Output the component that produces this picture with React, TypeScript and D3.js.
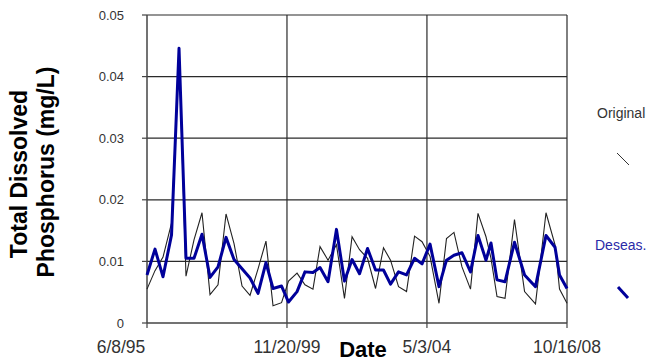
import React from "react";
import * as d3 from "d3";

// Sampling dates (shared by both series)
const dates = [
  "1995-06-08", "1995-09-09", "1995-12-11", "1996-03-19", "1996-06-14", "1996-09-03",
  "1996-12-05", "1997-03-08", "1997-06-09", "1997-09-10", "1997-12-12", "1998-03-15",
  "1998-06-16", "1998-09-17", "1998-12-19", "1999-03-21", "1999-06-11", "1999-09-18",
  "1999-12-08", "2000-03-16", "2000-06-16", "2000-09-17", "2000-12-08", "2001-03-11",
  "2001-06-17", "2001-09-18", "2001-12-15", "2002-03-12", "2002-06-13", "2002-09-14",
  "2002-12-15", "2003-03-07", "2003-06-08", "2003-09-09", "2003-12-11", "2004-03-07",
  "2004-06-08", "2004-09-20", "2004-12-16", "2005-03-13", "2005-06-14", "2005-09-21",
  "2005-12-17", "2006-03-20", "2006-05-17", "2006-07-26", "2006-10-27", "2007-02-14",
  "2007-06-11", "2007-10-16", "2008-02-15", "2008-05-30", "2008-07-21", "2008-10-16",
];

// Original series (mg/L)
const original = [
  0.0055, 0.0085, 0.0107, 0.0162, 0.044, 0.0076,
  0.0135, 0.0179, 0.0046, 0.0062, 0.0177, 0.0129,
  0.006, 0.0045, 0.0088, 0.0133, 0.0028, 0.0033,
  0.0068, 0.0081, 0.0062, 0.0055, 0.0124, 0.0102,
  0.0127, 0.004, 0.014, 0.0119, 0.0105, 0.0056,
  0.0122, 0.0102, 0.0059, 0.0051, 0.0141, 0.0132,
  0.0108, 0.0032, 0.0137, 0.0147, 0.0091, 0.0055,
  0.0178, 0.014, 0.0105, 0.0043, 0.004, 0.0168,
  0.0051, 0.0031, 0.0179, 0.0127, 0.0055, 0.0032,
];

// Deseasonalized series (mg/L)
const deseasonalized = [
  0.0078, 0.012, 0.0075, 0.0143, 0.0446, 0.0105,
  0.0105, 0.0144, 0.0074, 0.0091, 0.0139, 0.0103,
  0.0088, 0.0073, 0.0048, 0.0098, 0.0056, 0.006,
  0.0034, 0.0051, 0.0083, 0.0082, 0.009, 0.0067,
  0.0152, 0.0068, 0.0103, 0.008, 0.0121, 0.0086,
  0.0086, 0.0063, 0.0083, 0.0078, 0.0105, 0.0096,
  0.0128, 0.0059, 0.0102, 0.011, 0.0114, 0.0083,
  0.0142, 0.0102, 0.013, 0.007, 0.0067, 0.0131,
  0.0078, 0.0059, 0.0142, 0.0123, 0.0078, 0.0056,
];

const yTicks = [0, 0.01, 0.02, 0.03, 0.04, 0.05];
const yTickLabels = ["0", "0.01", "0.02", "0.03", "0.04", "0.05"];
const xTickDates = ["1995-06-08", "1999-11-20", "2004-05-03", "2008-10-16"];
const xTickLabels = ["6/8/95", "11/20/99", "5/3/04", "10/16/08"];
const seriesNames = ["Original", "Deseas."];

const W = 650;
const H = 362;
const M = { left: 147, right: 83, top: 15, bottom: 39 };
const FONT = "'Liberation Sans', Arial, Helvetica, sans-serif";

export default function App() {
  const parse = d3.timeParse("%Y-%m-%d");
  const dts = dates.map((d) => parse(d) as Date);
  const tickDts = xTickDates.map((d) => parse(d) as Date);

  const x = d3
    .scaleTime()
    .domain([tickDts[0], tickDts[tickDts.length - 1]])
    .range([M.left, W - M.right]);
  const y = d3.scaleLinear().domain([0, 0.05]).range([H - M.bottom, M.top]);

  const line = d3
    .line<number>()
    .x((_, i) => x(dts[i]))
    .y((v) => y(v));

  const x0 = x.range()[0];
  const x1 = x.range()[1];
  const y0 = y.range()[0];
  const y1 = y.range()[1];

  return (
    <div style={{ position: "absolute", left: 0, top: 0 }}>
      <svg width={W} height={H} style={{ display: "block", background: "#fff" }}>
        {/* horizontal gridlines */}
        {yTicks.map((t, i) =>
          t === 0 ? null : (
            <line key={"hg" + i} x1={x0} x2={x1} y1={y(t)} y2={y(t)} stroke="#2a2a2a" strokeWidth={1.2} />
          )
        )}
        {/* vertical gridlines */}
        {tickDts.map((d, i) =>
          i === 0 ? null : (
            <line key={"vg" + i} x1={x(d)} x2={x(d)} y1={y1} y2={y0} stroke="#2a2a2a" strokeWidth={1.2} />
          )
        )}
        {/* axes */}
        <line x1={x0} x2={x0} y1={y1} y2={y0} stroke="#444" strokeWidth={1.5} />
        <line x1={x0} x2={x1} y1={y0} y2={y0} stroke="#444" strokeWidth={1.5} />
        {/* y ticks */}
        {yTicks.map((t, i) => (
          <g key={"yt" + i}>
            <line x1={x0 - 5} x2={x0} y1={y(t)} y2={y(t)} stroke="#444" strokeWidth={1.2} />
            <text
              x={x0 - 23}
              y={y(t)}
              dy="0.35em"
              textAnchor="end"
              fontFamily={FONT}
              fontSize={13}
              fill="#333"
            >
              {yTickLabels[i]}
            </text>
          </g>
        ))}
        {/* x ticks */}
        {tickDts.map((d, i) => (
          <g key={"xt" + i}>
            <line x1={x(d)} x2={x(d)} y1={y0} y2={y0 + 5} stroke="#444" strokeWidth={1.2} />
            <text
              x={i === 0 ? x(d) - 26 : x(d)}
              y={353}
              textAnchor="middle"
              fontFamily={FONT}
              fontSize={17.5}
              fill="#333"
            >
              {xTickLabels[i]}
            </text>
          </g>
        ))}
        {/* series */}
        <path d={line(original) || ""} fill="none" stroke="#222" strokeWidth={1.1} />
        <path
          d={line(deseasonalized) || ""}
          fill="none"
          stroke="#00009a"
          strokeWidth={3}
          strokeLinejoin="round"
        />
        {/* axis titles */}
        <text x={363} y={357} textAnchor="middle" fontFamily={FONT} fontSize={22} fontWeight="bold" fill="#000">
          Date
        </text>
        <text
          transform="translate(27,174) rotate(-90)"
          textAnchor="middle"
          fontFamily={FONT}
          fontSize={23}
          fontWeight="bold"
          fill="#000"
        >
          Total Dissolved
        </text>
        <text
          transform="translate(54,172) rotate(-90)"
          textAnchor="middle"
          fontFamily={FONT}
          fontSize={23}
          fontWeight="bold"
          fill="#000"
        >
          Phosphorus (mg/L)
        </text>
        {/* legend */}
        <text x={597} y={118} fontFamily={FONT} fontSize={14} fill="#333">
          {seriesNames[0]}
        </text>
        <line x1={617} y1={153} x2={629} y2={165} stroke="#333" strokeWidth={1} />
        <text x={595} y={250} fontFamily={FONT} fontSize={14} fill="#2a2aa8">
          {seriesNames[1]}
        </text>
        <line x1={618} y1={287} x2={628} y2={298} stroke="#00009a" strokeWidth={3} />
      </svg>
    </div>
  );
}
